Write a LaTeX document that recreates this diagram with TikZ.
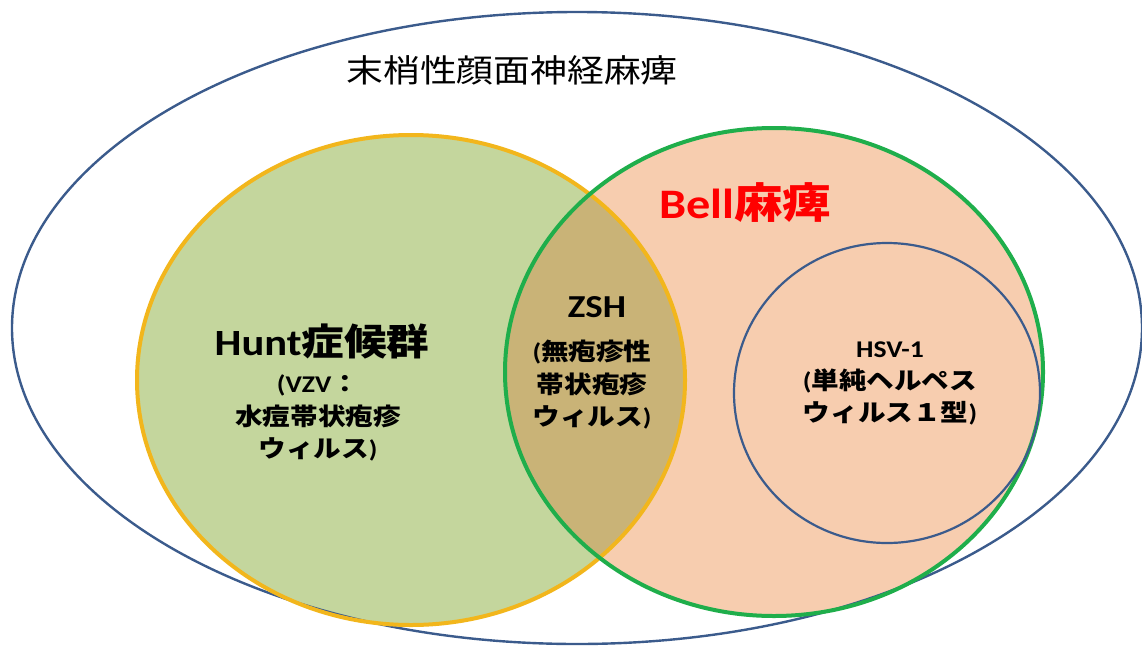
\documentclass[tikz,border=0pt]{standalone}
\usepackage{fontspec}
\newfontfamily\jpf{Noto Sans CJK JP}
\newfontfamily\latf{Carlito}
\newcommand{\hs}[1]{\scalebox{1.15}[1]{#1}}
\newcommand{\lb}[1]{{\latf\bfseries #1}}
\definecolor{huntfill}{HTML}{C4D69D}
\definecolor{bellfill}{HTML}{F7CDAF}
\definecolor{bothfill}{HTML}{C9B377}
\definecolor{huntline}{HTML}{F2B61C}
\definecolor{bellline}{HTML}{1FAE4B}
\definecolor{blueline}{HTML}{3B5B8C}
\begin{document}
\begin{tikzpicture}[x=1pt,y=-1pt,
  setline/.style={line width=4pt},
  thinline/.style={blueline, line width=2.4pt},
  bigtxt/.style={font=\jpf\bfseries\fontsize{#1}{#1}\selectfont, inner sep=0pt},
  subtxt/.style={font=\jpf\bfseries\fontsize{24}{32.5}\selectfont, align=center, inner sep=0pt}]
\useasboundingbox (0,0) rectangle (1142,645);
% fills
\fill[bellfill] (774,372) ellipse [x radius=269, y radius=244];
\fill[huntfill] (411,380) ellipse [x radius=274, y radius=245];
\begin{scope}
  \clip (774,372) ellipse [x radius=269, y radius=244];
  \fill[bothfill] (411,380) ellipse [x radius=274, y radius=245];
\end{scope}
% outlines
\draw[thinline] (577,328) ellipse [x radius=565, y radius=316];
\draw[setline, huntline] (411,380) ellipse [x radius=274, y radius=245];
\draw[setline, bellline] (774,372) ellipse [x radius=269, y radius=244];
\draw[thinline, line width=2.2pt] (887,393) ellipse [x radius=153, y radius=150];
% texts
\node[font=\jpf\fontsize{32}{32}\selectfont, inner sep=0pt] (title) at (512,70) {\hs{末梢性顔面神経麻痺}};
\node[bigtxt=42, text=red] (bell) at (745,203) {\hs{\lb{Bell}麻痺}};
\node[bigtxt=37] (hunt) at (322,341) {\hs{\lb{Hunt}症候群}};
\node[subtxt] (huntsub) at (318,418) {\hs{\lb{(VZV}：}\\\hs{水痘帯状疱疹}\\\hs{ウィルス\lb{)}}};
\node[font=\latf\bfseries\fontsize{32}{32}\selectfont, inner sep=0pt] (zsh) at (597,307) {\hs{ZSH}};
\node[subtxt] (zshsub) at (592,385) {\hs{\lb{(}無疱疹性}\\\hs{帯状疱疹}\\\hs{ウィルス\lb{)}}};
\node[font=\latf\bfseries\fontsize{24}{24}\selectfont, inner sep=0pt] (hsv) at (890,350) {\hs{HSV-1}};
\node[subtxt] (hsvsub) at (890,397) {\hs{\lb{(}単純ヘルペス}\\\hs{ウィルス１型\lb{)}}};
\end{tikzpicture}
\end{document}
